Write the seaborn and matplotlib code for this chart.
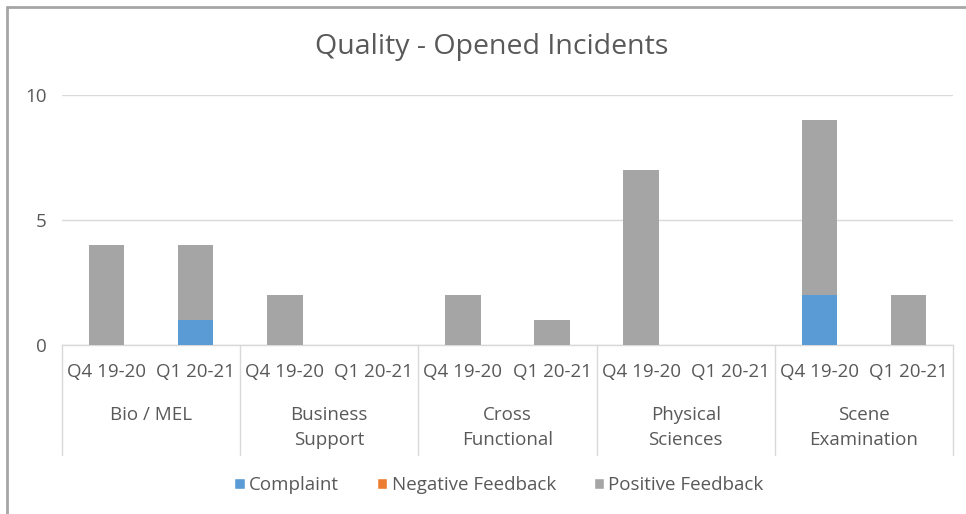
import matplotlib
matplotlib.use("Agg")
import matplotlib.pyplot as plt
import matplotlib.patches as mpatches
import matplotlib.transforms as mtransforms
import seaborn as sns
import pandas as pd

departments = ["Bio / MEL", "Business\nSupport", "Cross\nFunctional", "Physical\nSciences", "Scene\nExamination"]
quarters = ["Q4 19-20", "Q1 20-21"]
complaint = [0, 1, 0, 0, 0, 0, 0, 0, 2, 0]
negative_feedback = [0, 0, 0, 0, 0, 0, 0, 0, 0, 0]
positive_feedback = [4, 3, 2, 0, 2, 1, 7, 0, 7, 2]
series_names = ["Complaint", "Negative Feedback", "Positive Feedback"]
colors = ["#5B9BD5", "#ED7D31", "#A5A5A5"]
yticks = [0, 5, 10]

sns.set_theme(style="white")
plt.rcParams["font.family"] = ["Open Sans", "DejaVu Sans"]
text_color = "#595959"

slots = [f"{d}|{q}" for d in departments for q in quarters]
df = pd.DataFrame({
    "slot": slots,
    "complaint": complaint,
    "negative": negative_feedback,
    "positive": positive_feedback,
})
df["total_neg"] = df["complaint"] + df["negative"]
df["total"] = df["total_neg"] + df["positive"]

fig = plt.figure(figsize=(9.66, 5.14), dpi=100)
ax = fig.add_axes([62 / 966, 1 - 345 / 514, (953 - 62) / 966, 250 / 514])

for col, c in [("total", colors[2]), ("total_neg", colors[1]), ("complaint", colors[0])]:
    sns.barplot(data=df, x="slot", y=col, order=slots, color=c,
                width=0.4, saturation=1, linewidth=0, ax=ax, zorder=3)

ax.set_xlim(-0.5, len(slots) - 0.5)
ax.set_ylim(0, 10)
ax.set_yticks(yticks)
ax.set_yticklabels([str(t) for t in yticks], fontsize=13.5, color=text_color)
ax.yaxis.grid(True, color="#D9D9D9", linewidth=1, zorder=0)
ax.set_axisbelow(True)
for s in ["top", "right", "left"]:
    ax.spines[s].set_visible(False)
ax.spines["bottom"].set_color("#D9D9D9")
ax.spines["bottom"].set_linewidth(1)
ax.tick_params(axis="y", length=0, pad=11)
ax.set_xlabel("")
ax.set_ylabel("")

ax.set_xticks(range(len(slots)))
ax.set_xticklabels([q for d in departments for q in quarters], fontsize=13.5, color=text_color)
ax.tick_params(axis="x", length=0, pad=13)

trans = mtransforms.blended_transform_factory(ax.transData, ax.transAxes)
for i in range(len(departments) + 1):
    xb = i * 2 - 0.5
    ax.plot([xb, xb], [0, -0.44], transform=trans, color="#D9D9D9",
            linewidth=1, clip_on=False)
for i, d in enumerate(departments):
    ax.text(i * 2 + 0.5, -0.243, d, transform=trans, ha="center", va="top",
            fontsize=13.5, color=text_color, linespacing=1.5)

fig.text(492 / 966, 1 - 47 / 514, "Quality - Opened Incidents", ha="center",
         va="center", fontsize=20.5, color=text_color)

handles = [mpatches.Patch(facecolor=c, label=n) for c, n in zip(colors, series_names)]
fig.legend(handles=handles, loc="center", bbox_to_anchor=(499 / 966, 1 - 485 / 514),
           ncol=3, frameon=False, fontsize=13.5, handlelength=0.55, handleheight=0.55,
           handletextpad=0.25, columnspacing=2.0, labelcolor=text_color)

fig.add_artist(plt.Line2D([7 / 966, 1], [1 - 7 / 514, 1 - 7 / 514], color="#A6A6A6", linewidth=2))
fig.add_artist(plt.Line2D([7 / 966, 7 / 966], [0, 1 - 7 / 514], color="#A6A6A6", linewidth=2))

fig.savefig("out.png", dpi=100)
